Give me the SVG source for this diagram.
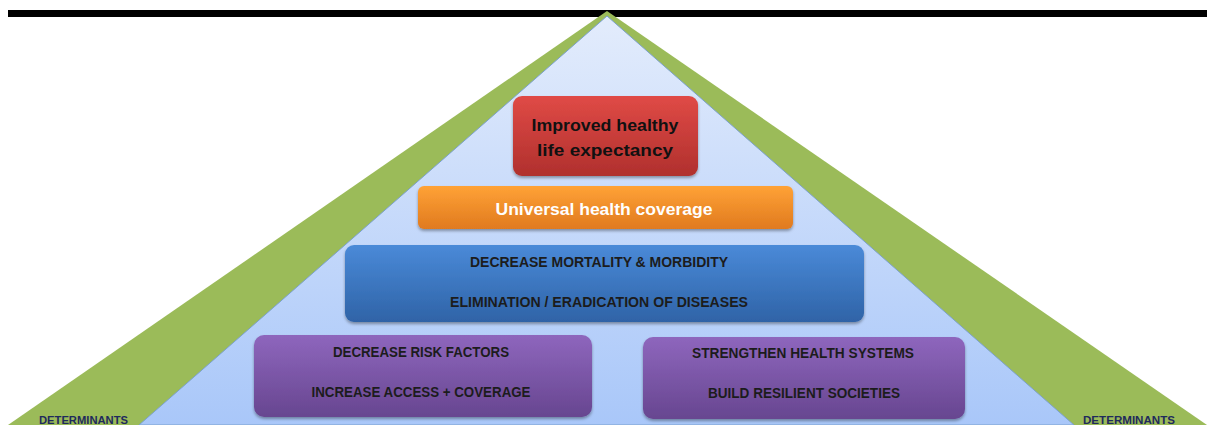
<svg xmlns="http://www.w3.org/2000/svg" width="1207" height="425" viewBox="0 0 1207 425">
<defs>
<linearGradient id="gBg" x1="0" y1="0" x2="0" y2="1"><stop offset="0" stop-color="#e3ecfc"/><stop offset="1" stop-color="#a9c7f9"/></linearGradient>
<linearGradient id="gRed" x1="0" y1="0" x2="0" y2="1"><stop offset="0" stop-color="#e04a46"/><stop offset="1" stop-color="#b0302d"/></linearGradient>
<linearGradient id="gOr" x1="0" y1="0" x2="0" y2="1"><stop offset="0" stop-color="#ffa236"/><stop offset="1" stop-color="#e07a1f"/></linearGradient>
<linearGradient id="gBl" x1="0" y1="0" x2="0" y2="1"><stop offset="0" stop-color="#4a8ad8"/><stop offset="1" stop-color="#2f63a7"/></linearGradient>
<linearGradient id="gPu" x1="0" y1="0" x2="0" y2="1"><stop offset="0" stop-color="#8e66bd"/><stop offset="1" stop-color="#674690"/></linearGradient>
<filter id="sh" x="-5%" y="-10%" width="110%" height="130%"><feDropShadow dx="0" dy="2" stdDeviation="1.5" flood-color="#000" flood-opacity="0.35"/></filter>
</defs>
<style>
.box{filter:url(#sh)}
.t{font-family:"Liberation Sans",Arial,sans-serif;font-weight:bold;text-anchor:middle;dominant-baseline:central}
.cap{font-size:14px;fill:#1c1c1c}
.det{font-family:"Liberation Sans",Arial,sans-serif;font-weight:bold;font-size:10px;fill:#1f2a5c}
</style>
<rect x="8" y="10" width="1199" height="7" fill="#000"/>
<g id="pyramid">
<polygon points="607,11 8,425 1207,425" fill="#9bbb59"/>
<polygon points="607,16 139,425 1074,425" fill="url(#gBg)" stroke="#7ba0cc" stroke-width="1"/>
</g>
<g id="n-life">
<rect class="box" x="513" y="96" width="185" height="80" rx="9" fill="url(#gRed)"/>
<text class="t" x="605" y="125" font-size="17" fill="#111" textLength="147" lengthAdjust="spacingAndGlyphs">Improved healthy</text>
<text class="t" x="605" y="150" font-size="17" fill="#111" textLength="136" lengthAdjust="spacingAndGlyphs">life expectancy</text>
</g>
<g id="n-uhc">
<rect class="box" x="418" y="186" width="375" height="43" rx="6" fill="url(#gOr)"/>
<text class="t" x="604" y="209" font-size="17" fill="#fff" textLength="217" lengthAdjust="spacingAndGlyphs">Universal health coverage</text>
</g>
<g id="n-mort">
<rect class="box" x="345" y="245" width="519" height="77" rx="9" fill="url(#gBl)"/>
<text class="t cap" x="599" y="262" textLength="258" lengthAdjust="spacingAndGlyphs">DECREASE MORTALITY &amp; MORBIDITY</text>
<text class="t cap" x="599" y="302" textLength="298" lengthAdjust="spacingAndGlyphs">ELIMINATION / ERADICATION OF DISEASES</text>
</g>
<g id="n-risk">
<rect class="box" x="254" y="335" width="338" height="82" rx="10" fill="url(#gPu)"/>
<text class="t cap" x="421" y="352" textLength="176" lengthAdjust="spacingAndGlyphs">DECREASE RISK FACTORS</text>
<text class="t cap" x="421" y="392" textLength="219" lengthAdjust="spacingAndGlyphs">INCREASE ACCESS + COVERAGE</text>
</g>
<g id="n-sys">
<rect class="box" x="643" y="337" width="322" height="82" rx="10" fill="url(#gPu)"/>
<text class="t cap" x="803" y="353" textLength="222" lengthAdjust="spacingAndGlyphs">STRENGTHEN HEALTH SYSTEMS</text>
<text class="t cap" x="804" y="393" textLength="192" lengthAdjust="spacingAndGlyphs">BUILD RESILIENT SOCIETIES</text>
</g>
<g id="labels">
<text class="det" x="39" y="424" textLength="89" lengthAdjust="spacingAndGlyphs">DETERMINANTS</text>
<text class="det" x="1083" y="424" textLength="92" lengthAdjust="spacingAndGlyphs">DETERMINANTS</text>
</g>
<g id="connectors"></g>
</svg>
